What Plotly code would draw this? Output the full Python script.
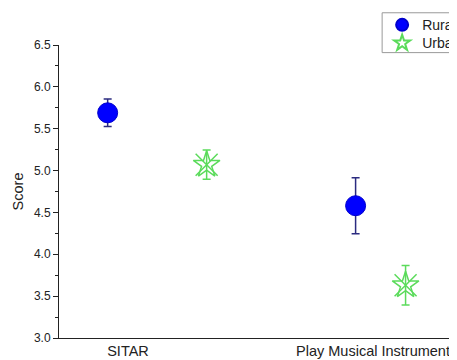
import plotly.graph_objects as go

# ---- data ----
categories = ["SITAR", "Play Musical Instrument"]
rural_mean = [5.69, 4.58]
rural_err = [0.165, 0.335]
urban_mean = [5.07, 3.63]
urban_err = [0.175, 0.235]
y_ticks = [3.0, 3.5, 4.0, 4.5, 5.0, 5.5, 6.0, 6.5]

# horizontal placement of each series around its category (category units)
rural_offset = [-0.083, -0.071]
urban_offset = [0.321, 0.133]

cat_pos = list(range(len(categories)))
rural_x = [c + o for c, o in zip(cat_pos, rural_offset)]
urban_x = [c + o for c, o in zip(cat_pos, urban_offset)]

FONT = "Liberation Sans, Arial, sans-serif"
GREEN = "#5BDB5B"

fig = go.Figure()
fig.add_trace(go.Scatter(
    x=rural_x, y=rural_mean, mode="markers", name="Rural", legend="legend",
    marker=dict(symbol="circle", size=20, color="#0000FF",
                line=dict(color="#0000CC", width=1)),
    error_y=dict(type="data", array=rural_err, visible=True,
                 color="#2B2B80", thickness=1.5, width=4),
))
fig.add_trace(go.Scatter(
    x=urban_x, y=urban_mean, mode="markers", name="Urban", legend="legend2",
    marker=dict(symbol="star-open", size=20, color=GREEN,
                line=dict(color=GREEN, width=1.5)),
    error_y=dict(type="data", array=urban_err, visible=True,
                 color=GREEN, thickness=1.5, width=4),
))
fig.add_trace(go.Scatter(
    x=urban_x, y=urban_mean, mode="markers", name="Urban",
    showlegend=False, hoverinfo="skip",
    marker=dict(symbol="x-thin-open", size=22, color=GREEN,
                line=dict(color=GREEN, width=1.5)),
))

leg_common = dict(xanchor="left", yanchor="top", borderwidth=0,
                  font=dict(size=14, family=FONT, color="#222222"),
                  bgcolor="rgba(0,0,0,0)", itemsizing="constant")

fig.update_layout(
    width=449, height=352,
    margin=dict(l=51, r=2, t=37, b=22, autoexpand=False),
    paper_bgcolor="white", plot_bgcolor="white",
    font=dict(family=FONT, color="#222222"),
    showlegend=True,
    legend=dict(x=0.816, y=1.122, **leg_common),
    legend2=dict(x=0.816, y=1.060, **leg_common),
    shapes=[dict(type="rect", xref="paper", yref="paper",
                 x0=0.816, x1=1.1, y0=0.974, y1=1.110,
                 line=dict(color="#999999", width=1), fillcolor="white",
                 layer="below")],
)
fig.update_xaxes(
    range=[-0.2816, 1.3347], tickmode="array", tickvals=cat_pos,
    ticktext=categories, showline=True, linecolor="#222222", linewidth=1,
    ticks="", showgrid=False, zeroline=False,
    tickfont=dict(size=14.5, family=FONT, color="#222222"),
)
fig.update_yaxes(
    range=[3.0, 6.5], tickmode="array", tickvals=y_ticks,
    ticktext=[f"{v:.1f}" for v in y_ticks],
    showline=True, linecolor="#222222", linewidth=1,
    ticks="outside", ticklen=5, tickcolor="#222222",
    minor=dict(ticks="outside", ticklen=3, dtick=0.25, tickcolor="#222222", showgrid=False),
    showgrid=False, zeroline=False,
    title=dict(text="Score", font=dict(size=14.5, family=FONT, color="#222222"), standoff=6),
    tickfont=dict(size=12, family=FONT, color="#222222"),
)

fig.write_html("out.html")
